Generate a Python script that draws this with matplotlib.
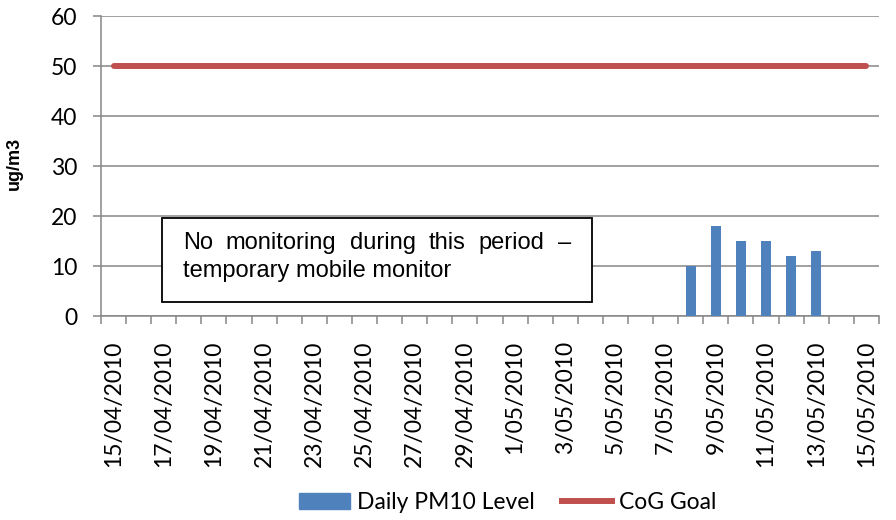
import numpy as np
import pandas as pd
import matplotlib
matplotlib.use("Agg")
import matplotlib.pyplot as plt
from matplotlib.patches import Rectangle, Patch
from matplotlib.lines import Line2D

# categories: one per day
dates = pd.date_range("2010-04-15", "2010-05-15", freq="D")
tick_labels = [f"{d.day}/{d.month:02d}/{d.year}" for d in dates]

# measured days only
pm10_dates = ["2010-05-08", "2010-05-09", "2010-05-10", "2010-05-11", "2010-05-12", "2010-05-13"]
pm10_values = [10, 18, 15, 15, 12, 13]
cog_goal = 50

note_line1 = ["No", "monitoring", "during", "this", "period", "\u2013"]
note_line2 = "temporary mobile monitor"

BLUE = "#4F81BD"
RED = "#C0504D"
GREY = "#868686"
TICKFONT = "Lato"
NOTEFONT = "Liberation Sans"

fig = plt.figure(figsize=(8.96, 5.2), dpi=100)
ax = fig.add_axes([0.1127, 0.3923, 0.8683, 0.5769])

x = np.arange(len(dates))
pos = {d.strftime("%Y-%m-%d"): i for i, d in enumerate(dates)}
bar_x = [pos[d] for d in pm10_dates]

ax.bar(bar_x, pm10_values, width=0.4, color=BLUE, zorder=3)
ax.plot(x, np.full(len(x), cog_goal), color=RED, lw=4.3, solid_capstyle="round", zorder=4)

ax.set_xlim(-0.5, len(dates) - 0.5)
ax.set_ylim(0, 60)
ax.set_yticks(range(0, 61, 10))
ax.grid(axis="y", color=GREY, lw=1.1, zorder=0)
ax.set_axisbelow(True)

# ticks between categories, labels every second day
ax.set_xticks(x[::2])
ax.set_xticklabels(tick_labels[::2], rotation=90, va="top", ha="center",
                   fontsize=16.5, family=TICKFONT)
ax.set_xticks(np.arange(-0.5, len(dates)), minor=True)
ax.tick_params(axis="x", which="major", length=0, pad=18)
ax.tick_params(axis="x", which="minor", length=6, width=1.1, color=GREY, direction="out")
ax.tick_params(axis="y", length=6, width=1.1, color=GREY, pad=11, labelsize=16.5)
for lab in ax.get_yticklabels():
    lab.set_family(TICKFONT)

for side in ["top", "right"]:
    ax.spines[side].set_visible(False)
for side in ["left", "bottom"]:
    ax.spines[side].set_color(GREY)
    ax.spines[side].set_linewidth(1.1)

fig.text(0.016, 0.686, "ug/m3", rotation=90, ha="center", va="center",
         fontsize=13, fontweight="bold", family=NOTEFONT)

# note box
ax.add_patch(Rectangle((0.078, 0.047), 0.553, 0.28, transform=ax.transAxes,
                       facecolor="white", edgecolor="black", lw=1.3, zorder=5))

# first line is justified between left and right text margins
left, right = 0.105, 0.604
renderer = fig.canvas.get_renderer()
words = [ax.text(left, 0.223, w, transform=ax.transAxes, ha="left", va="baseline",
                 fontsize=17, family=NOTEFONT, zorder=6) for w in note_line1]
widths = [t.get_window_extent(renderer).width for t in words]
ax_w = ax.get_window_extent(renderer).width
gap = ((right - left) * ax_w - sum(widths)) / (len(words) - 1)
cur = left * ax_w
for t, w in zip(words, widths):
    t.set_x(cur / ax_w)
    cur += w + gap
ax.text(left, 0.13, note_line2, transform=ax.transAxes, ha="left", va="baseline",
        fontsize=17, family=NOTEFONT, zorder=6)

handles = [Patch(color=BLUE), Line2D([], [], color=RED, lw=4.3)]
fig.legend(handles, ["Daily PM10 Level", "CoG Goal"], loc="center",
           bbox_to_anchor=(0.567, 0.033), ncol=2, frameon=False,
           prop={"family": TICKFONT, "size": 16.5}, handlelength=2.2,
           handletextpad=0.3, columnspacing=1.2)

fig.savefig("out.png", dpi=100)
